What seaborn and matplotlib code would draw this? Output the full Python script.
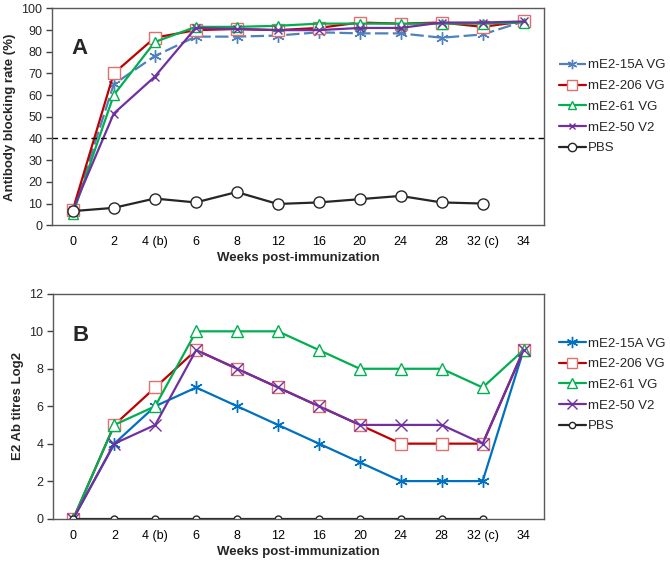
import matplotlib
matplotlib.use("Agg")
import matplotlib.pyplot as plt
import seaborn as sns
import pandas as pd
import numpy as np

weeks = ["0", "2", "4 (b)", "6", "8", "12", "16", "20", "24", "28", "32 (c)", "34"]
groups = ["mE2-15A VG", "mE2-206 VG", "mE2-61 VG", "mE2-50 V2", "PBS"]

# panel A: antibody blocking rate (%)
block_15a = [6, 65, 78, 87, 87, 87.5, 89, 88.5, 88.5, 86.5, 88, 94]
block_206 = [7, 70, 86.5, 90, 90.5, 90, 91, 93.5, 93, 93.5, 91.5, 94]
block_61 = [5, 60, 84.5, 91.5, 91.5, 92, 93, 93, 93, 93, 93, 93.5]
block_50 = [7, 51.5, 68.5, 91, 90.5, 90, 90, 91, 91, 93.5, 93.5, 94]
block_pbs = [6.5, 8, 12.3, 10.5, 15.3, 9.8, 10.5, 12, 13.5, 10.5, 10, np.nan]

# panel B: E2 Ab titres Log2
titre_15a = [0, 4, 6, 7, 6, 5, 4, 3, 2, 2, 2, 9]
titre_206 = [0, 5, 7, 9, 8, 7, 6, 5, 4, 4, 4, 9]
titre_61 = [0, 5, 6, 10, 10, 10, 9, 8, 8, 8, 7, 9]
titre_50 = [0, 4, 5, 9, 8, 7, 6, 5, 5, 5, 4, 9]
titre_pbs = [0, 0, 0, 0, 0, 0, 0, 0, 0, 0, 0, np.nan]

sns.set_theme(style="white")
plt.rcParams['font.family'] = ['Liberation Sans', 'DejaVu Sans']

asterisk = (6, 2, 0)
styles_a = {
    "mE2-15A VG": dict(color="#4F81BD", marker=asterisk, ms=9, dashes=(6, 2)),
    "mE2-206 VG": dict(color="#C00000", marker="s", ms=9, mec="#E07070"),
    "mE2-61 VG": dict(color="#00B050", marker="^", ms=7),
    "mE2-50 V2": dict(color="#7030A0", marker="x", ms=6),
    "PBS": dict(color="#262626", marker="o", ms=8),
}
styles_b = {
    "mE2-15A VG": dict(color="#0070C0", marker=asterisk, ms=9),
    "mE2-206 VG": dict(color="#C00000", marker="s", ms=8, mec="#E07070"),
    "mE2-61 VG": dict(color="#00B050", marker="^", ms=8),
    "mE2-50 V2": dict(color="#7030A0", marker="x", ms=8),
    "PBS": dict(color="#262626", marker="o", ms=5),
}

data_a = dict(zip(groups, [block_15a, block_206, block_61, block_50, block_pbs]))
data_b = dict(zip(groups, [titre_15a, titre_206, titre_61, titre_50, titre_pbs]))

fig = plt.figure(figsize=(6.7, 5.63), dpi=100)
ax_a = fig.add_axes([0.078, 0.600, 0.734, 0.385])
ax_b = fig.add_axes([0.079, 0.079, 0.733, 0.399])


def draw_panel(ax, data, styles, ylim, yticks, ylabel, letter, legend_y, mscale):
    x = np.arange(len(weeks))
    for g in groups:
        st = styles[g]
        df = pd.DataFrame({"x": x, "y": data[g]}).dropna()
        kw = dict(color=st["color"], marker=st["marker"], markersize=st["ms"],
                  markerfacecolor="white", markeredgecolor=st.get("mec", st["color"]),
                  markeredgewidth=1.0, linewidth=1.6, label=g)
        if "dashes" in st:
            kw["dashes"] = st["dashes"]
        sns.lineplot(data=df, x="x", y="y", ax=ax, **kw)
    ax.set_xlim(-0.5, len(weeks) - 0.5)
    ax.set_ylim(*ylim)
    ax.set_yticks(yticks)
    ax.set_xticks(x)
    ax.set_xticklabels(weeks)
    ax.set_xticks(np.arange(len(weeks) + 1) - 0.5, minor=True)
    ax.tick_params(axis="x", which="major", length=0, labelsize=9, pad=8, colors="black")
    ax.tick_params(axis="x", which="minor", length=4, direction="in", color="#404040", width=1)
    ax.tick_params(axis="y", length=4, direction="out", labelsize=9, color="#404040",
                   width=1, left=True, pad=3)
    ax.set_xlabel("Weeks post-immunization", fontsize=9.5, fontweight="bold", labelpad=3)
    ax.set_ylabel(ylabel, fontsize=9.5, fontweight="bold", labelpad=4)
    for s in ax.spines.values():
        s.set_color("#595959")
        s.set_linewidth(1.0)
    ax.text(0.04, 0.79, letter, transform=ax.transAxes, fontsize=16, fontweight="bold")
    h, l = ax.get_legend_handles_labels()
    ax.legend(h, l, loc="upper left", bbox_to_anchor=(1.02, legend_y), frameon=False,
              fontsize=9.5, handlelength=2.0, handletextpad=0.2, labelspacing=0.64,
              borderaxespad=0, markerscale=mscale)


draw_panel(ax_a, data_a, styles_a, (0, 100), range(0, 101, 10),
           "Antibody blocking rate (%)", "A", 0.79, 0.75)
ax_a.axhline(40, color="black", linestyle="--", linewidth=1, dashes=(4, 3))
draw_panel(ax_b, data_b, styles_b, (0, 12), range(0, 13, 2),
           "E2 Ab titres Log2", "B", 0.83, 0.9)

fig.savefig("out.png", dpi=100)
